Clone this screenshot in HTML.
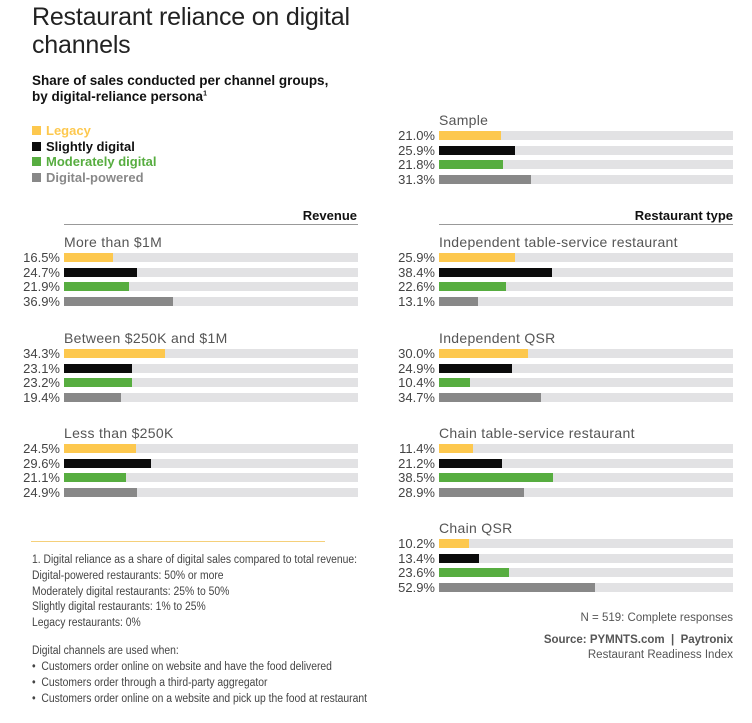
<!DOCTYPE html>
<html><head><meta charset="utf-8"><style>
*{margin:0;padding:0;box-sizing:border-box}
body{width:752px;height:723px;background:#fff;position:relative;font-family:"Liberation Sans",sans-serif;overflow:hidden}
div{position:absolute;white-space:nowrap}
.t{left:32px;font-size:25px;color:#222;font-weight:300;letter-spacing:-0.2px}
.s{left:32px;font-size:13.5px;font-weight:bold;color:#111}
.lg{left:32px;font-size:13px;font-weight:bold}
.lg span{display:inline-block;width:9px;height:9px;margin-right:5px;vertical-align:-0px}
.h{font-size:13px;font-weight:bold;color:#111;text-align:right;width:300px}
.hl{height:1px;background:#999;width:294px}
.gl{font-size:14px;color:#555;letter-spacing:0.3px}
.pc{font-size:13px;color:#444;text-align:right;width:60px}
.tr{height:9px;width:294px;background:#e2e2e4}
.tr i{position:absolute;left:0;top:0;height:9px}
.y{background:#fdc84e}.k{background:#0b0b0b}.g{background:#57ad40}.a{background:#888}
.fn{left:32px;font-size:11.5px;color:#444;transform:scaleX(0.9);transform-origin:0 0}
</style></head><body>
<div class="t" style="top:3px">Restaurant reliance on digital</div>
<div class="t" style="top:31px">channels</div>
<div class="s" style="top:73px">Share of sales conducted per channel groups,</div>
<div class="s" style="top:89px">by digital-reliance persona<sup style="font-size:7px">1</sup></div>
<div class="lg" style="top:123px;color:#fdc84e"><span class="y"></span>Legacy</div>
<div class="lg" style="top:139px;color:#111"><span class="k"></span>Slightly digital</div>
<div class="lg" style="top:154px;color:#57ad40"><span class="g"></span>Moderately digital</div>
<div class="lg" style="top:170px;color:#888"><span class="a"></span>Digital-powered</div>

<div class="h" style="left:57px;top:208px">Revenue</div>
<div class="hl" style="left:64px;top:224px"></div>
<div class="h" style="left:433px;top:208px">Restaurant type</div>
<div class="hl" style="left:439px;top:224px"></div>

<div id="c"></div>
<script>
var groups=[
[64,"Sample",439,112,[21.0,25.9,21.8,31.3]],
[64,"More than $1M",64,234,[16.5,24.7,21.9,36.9]],
[64,"Between $250K and $1M",64,330,[34.3,23.1,23.2,19.4]],
[64,"Less than $250K",64,425,[24.5,29.6,21.1,24.9]],
[0,"Independent table-service restaurant",439,234,[25.9,38.4,22.6,13.1]],
[0,"Independent QSR",439,330,[30.0,24.9,10.4,34.7]],
[0,"Chain table-service restaurant",439,425,[11.4,21.2,38.5,28.9]],
[0,"Chain QSR",439,520,[10.2,13.4,23.6,52.9]]];
var cl=["y","k","g","a"],h="";
groups.forEach(function(g){var x=g[2],t=g[3];
h+='<div class="gl" style="left:'+x+'px;top:'+t+'px">'+g[1]+'</div>';
g[4].forEach(function(v,i){var by=t+19+i*14.7;
h+='<div class="pc" style="left:'+(x-64)+'px;top:'+(by-3)+'px">'+v.toFixed(1)+'%</div>';
h+='<div class="tr" style="left:'+x+'px;top:'+by+'px"><i class="'+cl[i]+'" style="width:'+(v*2.95)+'px"></i></div>';});});
document.getElementById("c").outerHTML=h;
</script>

<div style="left:31px;top:541px;width:294px;height:1px;background:#f5d07a"></div>
<div class="fn" style="top:554px">1. Digital reliance as a share of digital sales compared to total revenue:</div>
<div class="fn" style="top:570px">Digital-powered restaurants: 50% or more</div>
<div class="fn" style="top:586px">Moderately digital restaurants: 25% to 50%</div>
<div class="fn" style="top:601px">Slightly digital restaurants: 1% to 25%</div>
<div class="fn" style="top:617px">Legacy restaurants: 0%</div>
<div class="fn" style="top:645px">Digital channels are used when:</div>
<div class="fn" style="top:661px">•&nbsp; Customers order online on website and have the food delivered</div>
<div class="fn" style="top:677px">•&nbsp; Customers order through a third-party aggregator</div>
<div class="fn" style="top:693px">•&nbsp; Customers order online on a website and pick up the food at restaurant</div>

<div style="right:19px;top:612px;font-size:11.5px;color:#555">N = 519: Complete responses</div>
<div style="right:19px;top:634px;font-size:11.5px;color:#555;font-weight:bold">Source: PYMNTS.com &nbsp;|&nbsp; Paytronix</div>
<div style="right:19px;top:649px;font-size:11.5px;color:#555">Restaurant Readiness Index</div>
</body></html>
